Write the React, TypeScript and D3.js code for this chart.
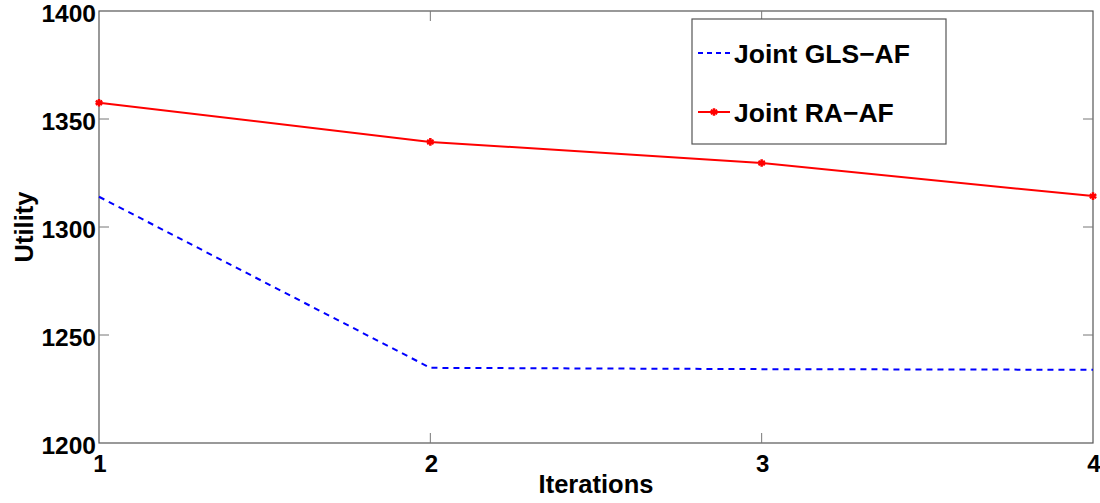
import * as d3 from 'd3';
import { useEffect, useRef } from 'react';

const iterations = [1, 2, 3, 4];
const raValues = [1357.5, 1339.4, 1329.6, 1314.3];
const glsValues = [1314.0, 1234.8, 1234.2, 1233.9];
const yTicks = [1200, 1250, 1300, 1350, 1400];
const legendLabels = ['Joint GLS\u2212AF', 'Joint RA\u2212AF'];

const width = 1100;
const height = 503;
const font = '"Liberation Sans", Arial, Helvetica, sans-serif';

export default function App() {
  const ref = useRef<SVGSVGElement>(null);

  useEffect(() => {
    const svg = d3.select(ref.current);
    svg.selectAll('*').remove();

    const margin = { top: 11, right: 7, bottom: 60, left: 99 };
    const x = d3.scaleLinear().domain([1, 4]).range([margin.left, width - margin.right]);
    const y = d3.scaleLinear().domain([1200, 1400]).range([height - margin.bottom, margin.top]);
    const [x0, x1] = x.range();
    const [y0, y1] = y.range();

    // frame
    svg.append('rect')
      .attr('x', x0).attr('y', y1)
      .attr('width', x1 - x0).attr('height', y0 - y1)
      .attr('fill', 'none').attr('stroke', '#555').attr('stroke-width', 1.2);

    const tickLen = 10;
    const ticks = svg.append('g').attr('stroke', '#777').attr('stroke-width', 1);
    yTicks.slice(1, -1).forEach((t) => {
      ticks.append('line').attr('x1', x0).attr('x2', x0 + tickLen).attr('y1', y(t)).attr('y2', y(t));
      ticks.append('line').attr('x1', x1).attr('x2', x1 - tickLen).attr('y1', y(t)).attr('y2', y(t));
    });
    iterations.slice(1, -1).forEach((t) => {
      ticks.append('line').attr('x1', x(t)).attr('x2', x(t)).attr('y1', y0).attr('y2', y0 - tickLen);
      ticks.append('line').attr('x1', x(t)).attr('x2', x(t)).attr('y1', y1).attr('y2', y1 + tickLen);
    });

    svg.append('g')
      .selectAll('text')
      .data(yTicks)
      .enter()
      .append('text')
      .attr('x', x0 - 3)
      .attr('y', (d) => y(d) + 10.5)
      .attr('text-anchor', 'end')
      .style('font-family', font)
      .style('font-weight', 'bold')
      .style('font-size', '24.5px')
      .text((d) => d);

    svg.append('g')
      .selectAll('text')
      .data(iterations)
      .enter()
      .append('text')
      .attr('x', (d) => x(d) + 1)
      .attr('y', y0 + 29)
      .attr('text-anchor', 'middle')
      .style('font-family', font)
      .style('font-weight', 'bold')
      .style('font-size', '24px')
      .text((d) => d);

    svg.append('text')
      .attr('x', (x0 + x1) / 2)
      .attr('y', 493)
      .attr('text-anchor', 'middle')
      .style('font-family', font)
      .style('font-weight', 'bold')
      .style('font-size', '25.5px')
      .text('Iterations');

    svg.append('text')
      .attr('transform', `translate(33,${(y0 + y1) / 2}) rotate(-90)`)
      .attr('text-anchor', 'middle')
      .style('font-family', font)
      .style('font-weight', 'bold')
      .style('font-size', '25.5px')
      .text('Utility');

    const line = d3.line<number>()
      .x((_, i) => x(iterations[i]))
      .y((d) => y(d));

    svg.append('path')
      .datum(glsValues)
      .attr('d', line)
      .attr('fill', 'none')
      .attr('stroke', '#0000ff')
      .attr('stroke-width', 2)
      .attr('stroke-dasharray', '6,5');

    svg.append('path')
      .datum(raValues)
      .attr('d', line)
      .attr('fill', 'none')
      .attr('stroke', '#ff0000')
      .attr('stroke-width', 2);

    const star = d3.symbol().type(d3.symbolAsterisk).size(40);
    svg.append('g')
      .selectAll('path')
      .data(raValues)
      .enter()
      .append('path')
      .attr('transform', (d, i) => `translate(${x(iterations[i])},${y(d)})`)
      .attr('d', star)
      .attr('fill', 'none')
      .attr('stroke', '#ff0000')
      .attr('stroke-width', 2.5);

    // legend
    const legend = svg.append('g');
    legend.append('rect')
      .attr('x', 692).attr('y', 19)
      .attr('width', 254).attr('height', 125)
      .attr('fill', '#fff').attr('stroke', '#555').attr('stroke-width', 1.2);

    const rows = [53, 112];
    legend.append('line')
      .attr('x1', 698).attr('x2', 730).attr('y1', rows[0]).attr('y2', rows[0])
      .attr('stroke', '#0000ff').attr('stroke-width', 2).attr('stroke-dasharray', '5,4');
    legend.append('line')
      .attr('x1', 698).attr('x2', 730).attr('y1', rows[1]).attr('y2', rows[1])
      .attr('stroke', '#ff0000').attr('stroke-width', 2);
    legend.append('path')
      .attr('transform', `translate(714,${rows[1]})`)
      .attr('d', star)
      .attr('fill', 'none')
      .attr('stroke', '#ff0000')
      .attr('stroke-width', 2.5);

    legend.selectAll('text')
      .data(legendLabels)
      .enter()
      .append('text')
      .attr('x', 734)
      .attr('y', (_, i) => rows[i] + 10)
      .style('font-family', font)
      .style('font-weight', 'bold')
      .style('font-size', '26.5px')
      .text((d) => d);
  }, []);

  return (
    <svg
      ref={ref}
      width={width}
      height={height}
      style={{ position: 'absolute', left: 0, top: 0, background: '#fff' }}
    />
  );
}
